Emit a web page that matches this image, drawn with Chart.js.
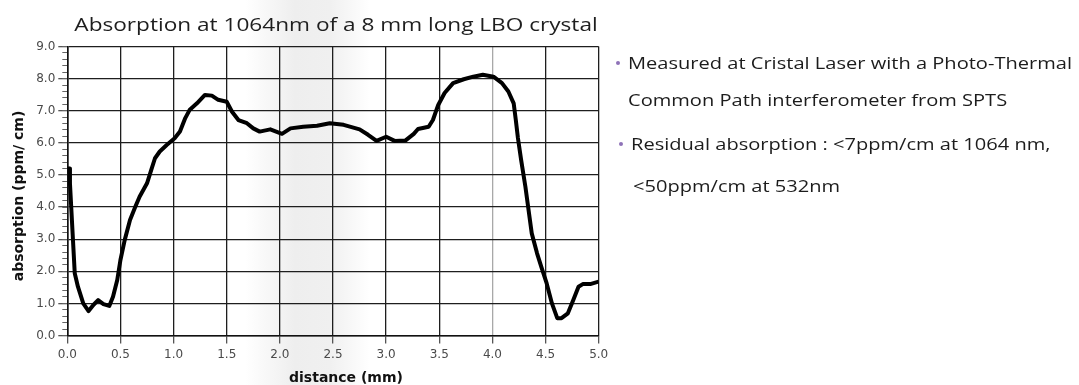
<!DOCTYPE html>
<html>
<head>
<meta charset="utf-8">
<script src="https://cdn.jsdelivr.net/npm/chart.js@4.4.0/dist/chart.umd.min.js"></script>
<style>
  html, body { margin: 0; padding: 0; }
  body {
    width: 1079px; height: 385px; position: relative; overflow: hidden;
    background: linear-gradient(90deg, #fff 0px, #fff 245px, #eeeeee 295px, #f0f0f0 330px, #fff 370px, #fff 100%);
  }
  #chart { position: absolute; left: 0; top: 0; }
  .txt { position: absolute; white-space: nowrap; }
  .title { font-family: "Open Sans"; font-size: 19px; line-height: 19px; color: #1e1e1e; width: 600px; text-align: center; transform: scaleX(1.19); }
  .note { font-family: "Open Sans"; font-size: 17px; line-height: 17px; color: #1c1c1c; transform-origin: 0 50%; transform: scaleX(1.18); }
  .axis { font-family: "DejaVu Sans"; font-weight: bold; font-size: 14px; line-height: 16px; color: #111; width: 200px; text-align: center; }
  .dot { position: absolute; width: 4px; height: 4px; border-radius: 50%; background: #8e72b8; }
</style>
</head>
<body>
<canvas id="chart" width="1079" height="385"></canvas>
<div id="texts"></div>
<script>
// measured absorption profile along the crystal
const distance = [
  0.00, 0.02, 0.025, 0.05, 0.07, 0.10, 0.15, 0.20, 0.245, 0.29,
  0.34, 0.395, 0.43, 0.47, 0.50, 0.54, 0.59, 0.64, 0.68, 0.75,
  0.79, 0.825, 0.87, 0.935, 1.01, 1.06, 1.11, 1.15, 1.22, 1.295,
  1.36, 1.42, 1.50, 1.55, 1.61, 1.69, 1.75, 1.81, 1.91, 2.02,
  2.10, 2.22, 2.35, 2.47, 2.60, 2.75, 2.83, 2.91, 3.00, 3.08,
  3.18, 3.26, 3.30, 3.40, 3.44, 3.49, 3.55, 3.63, 3.73, 3.82,
  3.91, 4.01, 4.09, 4.15, 4.20, 4.22, 4.24, 4.27, 4.31, 4.34,
  4.37, 4.42, 4.46, 4.51, 4.56, 4.61, 4.65, 4.71, 4.76, 4.81,
  4.85, 4.92, 5.00
];
const absorption = [
  5.20, 5.20, 4.74, 3.18, 1.94, 1.52, 1.00, 0.76, 0.95, 1.10,
  0.98, 0.92, 1.21, 1.73, 2.35, 2.97, 3.60, 4.01, 4.32, 4.74,
  5.16, 5.52, 5.73, 5.93, 6.14, 6.35, 6.77, 7.02, 7.23, 7.49,
  7.47, 7.34, 7.28, 6.97, 6.71, 6.61, 6.45, 6.35, 6.42, 6.28,
  6.45, 6.50, 6.53, 6.61, 6.56, 6.42, 6.25, 6.06, 6.19, 6.06,
  6.07, 6.28, 6.43, 6.50, 6.71, 7.18, 7.55, 7.86, 7.98, 8.06,
  8.12, 8.06, 7.86, 7.60, 7.23, 6.71, 6.15, 5.47, 4.64, 3.91,
  3.18, 2.56, 2.14, 1.63, 1.00, 0.54, 0.54, 0.69, 1.10, 1.52,
  1.60, 1.60, 1.68
];
const xTickLabels = ['0.0', '0.5', '1.0', '1.5', '2.0', '2.5', '3.0', '3.5', '4.0', '4.5', '5.0'];
const yTickLabels = ['0.0', '1.0', '2.0', '3.0', '4.0', '5.0', '6.0', '7.0', '8.0', '9.0'];
const chartTitle = 'Absorption at 1064nm of a 8 mm long LBO crystal';
const xTitle = 'distance (mm)';
const yTitle = 'absorption (ppm/ cm)';
const notes = [
  ['Measured at Cristal Laser with a Photo-Thermal', 'Common Path interferometer from SPTS'],
  ['Residual absorption : <7ppm/cm at 1064 nm,', '<50ppm/cm at 532nm']
];

// text blocks (html, so they stay plain text)
const holder = document.getElementById('texts');
function addText(cls, text, left, top, extra) {
  const d = document.createElement('div');
  d.className = 'txt ' + cls;
  d.textContent = text;
  d.style.left = left + 'px';
  d.style.top = top + 'px';
  if (extra) d.style.transform = extra;
  holder.appendChild(d);
  return d;
}
addText('title', chartTitle, 335.5 - 300, 31.7 - 16.9);
addText('axis', xTitle, 346 - 100, 368.6);
addText('axis', yTitle, 18.3 - 100, 196 - 8, 'rotate(-90deg)');

const noteLines = [
  { text: notes[0][0], left: 628, base: 69.5, dot: true },
  { text: notes[0][1], left: 628, base: 106.5 },
  { text: notes[1][0], left: 631, base: 150.5, dot: true },
  { text: notes[1][1], left: 633, base: 192.5 }
];
noteLines.forEach(l => {
  addText('note', l.text, l.left, l.base - 15.1);
  if (l.dot) {
    const b = document.createElement('div');
    b.className = 'dot';
    b.style.left = (l.left - 12) + 'px';
    b.style.top = (l.base - 8.5) + 'px';
    holder.appendChild(b);
  }
});

const points = distance.map((x, i) => ({ x: x, y: absorption[i] }));
const tickFont = { family: 'DejaVu Sans', size: 12 };

new Chart(document.getElementById('chart'), {
  type: 'line',
  data: {
    datasets: [{
      data: points,
      xAxisID: 'x',
      yAxisID: 'y',
      borderColor: '#000',
      borderWidth: 4,
      borderJoinStyle: 'round',
      pointRadius: 0,
      tension: 0,
      fill: false
    }]
  },
  options: {
    responsive: false,
    devicePixelRatio: 1,
    animation: false,
    events: [],
    layout: { padding: { left: 0, right: 480.3, top: 46.5, bottom: 0 } },
    plugins: {
      legend: { display: false },
      tooltip: { enabled: false },
      title: { display: false }
    },
    scales: {
      x: {
        type: 'linear',
        min: 0,
        max: 5,
        afterFit: s => { s.height = 49.5; },
        ticks: {
          stepSize: 0.5,
          autoSkip: false,
          maxRotation: 0,
          color: '#4a4a4a',
          font: tickFont,
          padding: 4,
          callback: (v, i) => xTickLabels[i]
        },
        grid: {
          color: c => (c.tick && Math.abs(c.tick.value - 4) < 1e-6) ? '#a8a8a8' : '#1e1e1e',
          lineWidth: 1.3,
          tickLength: 8,
          tickColor: '#555'
        },
        border: { color: '#111', width: 1.6 }
      },
      y: {
        min: 0,
        max: 9,
        weight: 1,
        afterFit: s => { s.width = 67.3; },
        ticks: {
          stepSize: 1,
          autoSkip: false,
          color: '#4a4a4a',
          font: tickFont,
          padding: 3,
          callback: (v, i) => yTickLabels[i]
        },
        grid: { color: '#1e1e1e', lineWidth: 1.3, tickLength: 9, tickColor: '#555' },
        border: { color: '#111', width: 1.6 }
      },
      yMinor: {
        position: 'left',
        weight: -1,
        min: 0,
        max: 9,
        afterFit: s => { s.width = 0; },
        ticks: { stepSize: 0.2, autoSkip: false, callback: () => '' },
        grid: { drawOnChartArea: false, tickLength: 5, tickColor: '#666' },
        border: { display: false }
      }
    }
  }
});
</script>
</body>
</html>
